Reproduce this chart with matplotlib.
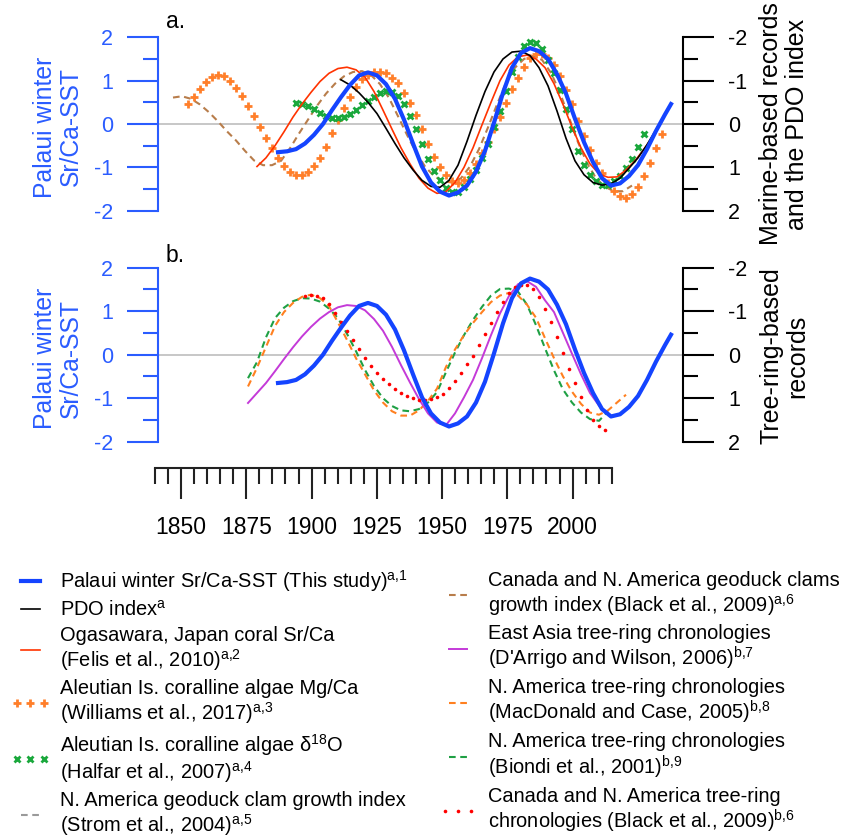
import numpy as np
import matplotlib
matplotlib.use("Agg")
import matplotlib.pyplot as plt
from matplotlib.lines import Line2D
from matplotlib.legend_handler import HandlerLine2D

plt.rcParams['font.family'] = ['Liberation Sans', 'DejaVu Sans']
plt.rcParams['mathtext.fontset'] = 'custom'
plt.rcParams['mathtext.rm'] = 'Liberation Sans'
plt.rcParams['mathtext.it'] = 'Liberation Sans:italic'
plt.rcParams['axes.unicode_minus'] = False

# ---- panel a: left axis (Palaui coral, this study) ----
blue_yr = [1880, 1883, 1886, 1889, 1892, 1895, 1898, 1901, 1904, 1907, 1910, 1913, 1916,
           1919, 1922, 1925, 1928, 1931, 1934, 1937, 1940, 1943, 1946, 1949, 1952, 1955,
           1958, 1961, 1964, 1967, 1970, 1973, 1976, 1979, 1982, 1985, 1988, 1991, 1994,
           1997, 2000, 2003, 2006, 2009, 2011]
blue_val = [-0.65, -0.63, -0.58, -0.45, -0.25, 0.0, 0.32, 0.62, 0.90, 1.12, 1.19, 1.12, 0.92,
            0.58, 0.10, -0.45, -0.98, -1.35, -1.56, -1.65, -1.58, -1.42, -1.10, -0.62, 0.03,
            0.72, 1.30, 1.64, 1.75, 1.68, 1.50, 1.15, 0.70, 0.12, -0.42, -0.88, -1.25, -1.42,
            -1.37, -1.20, -0.95, -0.58, -0.16, 0.22, 0.46]

# ---- panel a: right axis (inverted), marine records + PDO ----
pdo_yr = list(range(1901, 2010, 3))
pdo_val = [-1.02, -0.90, -0.72, -0.50, -0.24, 0.10, 0.45, 0.78, 1.06, 1.30,
           1.44, 1.46, 1.30, 0.95, 0.40, -0.20, -0.75, -1.20, -1.50, -1.66,
           -1.68, -1.58, -1.30, -0.88, -0.30, 0.33, 0.85, 1.17, 1.35, 1.41,
           1.38, 1.25, 1.02, 0.78, 0.48, 0.13, -0.21]

oga_yr = list(range(1873, 2009, 3))
oga_val = [0.98, 0.78, 0.50, 0.18, -0.16, -0.46, -0.73, -0.98, -1.17, -1.28,
           -1.31, -1.25, -1.08, -0.75, -0.32, 0.12, 0.55, 0.92, 1.25, 1.48,
           1.60, 1.56, 1.35, 1.00, 0.55, 0.02, -0.50, -1.00, -1.36, -1.55,
           -1.59, -1.50, -1.30, -0.93, -0.45, 0.07, 0.55, 0.92, 1.15, 1.23,
           1.22, 1.06, 0.85, 0.58, 0.28, -0.06]

geo_yr = list(range(1845, 1999, 3))
geo_val = [-0.61, -0.64, -0.58, -0.45, -0.27, -0.06, 0.17, 0.38, 0.62, 0.84,
           0.95, 0.95, 0.85, 0.56, 0.22, -0.10, -0.42, -0.70, -0.93, -1.10,
           -1.20, -1.22, -1.13, -0.92, -0.60, -0.18, 0.25, 0.65, 0.98, 1.20,
           1.32, 1.35, 1.25, 0.98, 0.58, 0.08, -0.45, -0.95, -1.30, -1.50,
           -1.57, -1.48, -1.18, -0.72, -0.15, 0.42, 0.90, 1.25, 1.45, 1.55,
           1.55, 1.42]

mgca_yr = list(range(1850, 2009, 2))
mgca_val = [-0.45, -0.62, -0.80, -0.96, -1.08, -1.13, -1.10, -1.00, -0.84, -0.65,
            -0.42, -0.18, 0.06, 0.32, 0.56, 0.78, 0.97, 1.10, 1.17, 1.17,
            1.10, 0.98, 0.78, 0.52, 0.20, -0.10, -0.38, -0.63, -0.85, -1.03,
            -1.13, -1.19, -1.21, -1.17, -1.07, -0.94, -0.72, -0.48, -0.20, 0.12,
            0.45, 0.75, 1.00, 1.18, 1.32, 1.37, 1.30, 1.14, 0.92, 0.68,
            0.42, 0.12, -0.17, -0.48, -0.80, -1.07, -1.32, -1.52, -1.62, -1.62,
            -1.52, -1.36, -1.10, -0.78, -0.45, -0.08, 0.28, 0.60, 0.90, 1.14,
            1.36, 1.55, 1.67, 1.70, 1.62, 1.45, 1.20, 0.91, 0.55, 0.22]

d18o_yr = list(range(1886, 2003, 2))
d18o_val = [-0.49, -0.46, -0.41, -0.34, -0.26, -0.18, -0.14, -0.13, -0.17, -0.24,
            -0.33, -0.43, -0.53, -0.63, -0.71, -0.75, -0.73, -0.64, -0.45, -0.18,
            0.12, 0.45, 0.80, 1.08, 1.30, 1.48, 1.58, 1.58, 1.45, 1.28,
            1.05, 0.78, 0.45, 0.08, -0.30, -0.75, -1.20, -1.55, -1.80, -1.90,
            -1.86, -1.72, -1.48, -1.18, -0.78, -0.35, 0.12, 0.62, 0.95, 1.17,
            1.32, 1.40, 1.40, 1.32, 1.20, 1.02, 0.80, 0.52, 0.22]

# ---- panel b: right axis (inverted), tree-ring records ----
asia_yr = list(range(1870, 1988, 3))
asia_val = [1.11, 0.88, 0.65, 0.38, 0.10, -0.17, -0.42, -0.64, -0.83, -0.98,
            -1.09, -1.14, -1.12, -1.02, -0.82, -0.55, -0.18, 0.24, 0.64, 1.02,
            1.35, 1.56, 1.62, 1.35, 0.98, 0.58, 0.08, -0.45, -0.95, -1.35,
            -1.62, -1.69, -1.56, -1.25, -0.98, -0.50, -0.02, 0.45, 0.88, 1.17]

biondi_yr = list(range(1870, 1991, 3))
biondi_val = [0.54, 0.17, -0.40, -0.84, -1.08, -1.23, -1.30, -1.29, -1.22, -1.06,
              -0.84, -0.48, -0.08, 0.35, 0.72, 1.00, 1.18, 1.28, 1.30, 1.25,
              1.10, 0.86, 0.40, -0.05, -0.45, -0.80, -1.10, -1.36, -1.51, -1.52,
              -1.45, -1.15, -0.68, -0.15, 0.36, 0.80, 1.10, 1.33, 1.48, 1.52,
              1.30]

macd_yr = list(range(1870, 1997, 3))
macd_val = [0.73, 0.30, -0.18, -0.66, -0.98, -1.19, -1.33, -1.38, -1.30, -1.12,
            -0.74, -0.34, 0.08, 0.45, 0.82, 1.10, 1.30, 1.40, 1.40, 1.28,
            1.06, 0.78, 0.28, -0.12, -0.45, -0.73, -0.98, -1.21, -1.36, -1.42,
            -1.36, -1.15, -0.85, -0.38, 0.08, 0.50, 0.85, 1.13, 1.33, 1.38,
            1.28, 1.10, 0.92]

black_yr = list(range(1889, 1990, 2))
black_val = [-1.36, -1.38, -1.36, -1.30, -1.16, -0.97, -0.76, -0.55, -0.33, -0.12,
             0.08, 0.26, 0.43, 0.57, 0.68, 0.78, 0.88, 0.95, 1.00, 1.03,
             1.04, 1.02, 0.98, 0.90, 0.77, 0.60, 0.42, 0.22, 0.02, -0.22,
             -0.47, -0.72, -0.98, -1.22, -1.42, -1.55, -1.60, -1.60, -1.50, -1.32,
             -1.06, -0.75, -0.40, -0.04, 0.32, 0.65, 0.97, 1.27, 1.50, 1.65,
             1.74]

yticks = [-2, -1, 0, 1, 2]
yminor = [-1.5, -0.5, 0.5, 1.5]
xmajor = [1850, 1875, 1900, 1925, 1950, 1975, 2000]

BLUE = '#1444ff'
BLUE_AX = '#2a5cff'
DASH = (0, (3.2, 2.2))
W, H = 852.0, 838.0


def px(x, y, w, h):
    return [x / W, 1 - (y + h) / H, w / W, h / H]


def setup_panel(axl, axr):
    for ax in (axl, axr):
        ax.set_xlim(1840, 2015)
        ax.spines['top'].set_visible(False)
        ax.spines['bottom'].set_visible(False)
        ax.tick_params(axis='x', which='both', bottom=False, labelbottom=False)
    axl.set_ylim(-2, 2)
    axr.set_ylim(2, -2)
    axl.spines['right'].set_visible(False)
    axr.spines['left'].set_visible(False)
    axl.spines['left'].set_color(BLUE_AX)
    axl.spines['left'].set_linewidth(1.5)
    axr.spines['right'].set_linewidth(1.5)
    for ax, col in ((axl, BLUE_AX), (axr, 'black')):
        ax.set_yticks(yticks)
        ax.set_yticks(yminor, minor=True)
        ax.set_yticklabels([str(t) for t in yticks])
        ax.tick_params(axis='y', which='major', direction='out', length=22, width=1.5,
                       color=col, labelcolor=col, labelsize=15.5, pad=10.5)
        ax.tick_params(axis='y', which='minor', direction='out', length=11, width=1.5,
                       color=col)
    axr.axhline(0, color='#bdbdbd', lw=1.2, zorder=0)
    axl.set_zorder(3)
    axl.patch.set_visible(False)


fig = plt.figure(figsize=(8.52, 8.38), dpi=100)

# panel a
axa = fig.add_axes(px(158, 37.3, 525, 173.4))
axa_r = axa.twinx()
setup_panel(axa, axa_r)
h_geo, = axa_r.plot(geo_yr, geo_val, color='#b87d4b', lw=1.5, ls=DASH)
h_mg, = axa_r.plot(mgca_yr, mgca_val, ls='none', marker='+', ms=5.5, mew=2.0, color='#ff7f2a')
h_d18, = axa_r.plot(d18o_yr, d18o_val, ls='none', marker='x', ms=4, mew=2.0, color='#1aa83c')
h_oga, = axa_r.plot(oga_yr, oga_val, color='#ff3300', lw=1.2)
h_pdo, = axa_r.plot(pdo_yr, pdo_val, color='black', lw=1.2)
h_blue, = axa.plot(blue_yr, blue_val, color=BLUE, lw=3)

# panel b
axb = fig.add_axes(px(158, 267.7, 525, 174))
axb_r = axb.twinx()
setup_panel(axb, axb_r)
h_bio, = axb_r.plot(biondi_yr, biondi_val, color='#1fa044', lw=1.5, ls=DASH)
h_mac, = axb_r.plot(macd_yr, macd_val, color='#ff8020', lw=1.5, ls=DASH)
h_asia, = axb_r.plot(asia_yr, asia_val, color='#c43ad8', lw=1.4)
h_blk, = axb_r.plot(black_yr, black_val, ls='none', marker='o', ms=2.6, mew=0, color='#ff0000')
axb.plot(blue_yr, blue_val, color=BLUE, lw=3)

# axis titles and panel letters
fig.text(58 / W, 1 - 127 / H, 'Palaui winter\nSr/Ca-SST', rotation=90, ha='center',
         va='center', color=BLUE_AX, fontsize=17.8, linespacing=1.1)
fig.text(58 / W, 1 - 358 / H, 'Palaui winter\nSr/Ca-SST', rotation=90, ha='center',
         va='center', color=BLUE_AX, fontsize=17.8, linespacing=1.1)
fig.text(784 / W, 1 - 124 / H, 'Marine-based records\nand the PDO index', rotation=90,
         ha='center', va='center', fontsize=18, linespacing=1.1)
fig.text(784 / W, 1 - 356 / H, 'Tree-ring-based\nrecords', rotation=90,
         ha='center', va='center', fontsize=18, linespacing=1.1)
fig.text(166 / W, 1 - 28 / H, 'a.', fontsize=16.5, va='baseline')
fig.text(166 / W, 1 - 262 / H, 'b.', fontsize=16.5, va='baseline')

# detached time axis
axx = fig.add_axes(px(155, 466.7, 456.7, 1))
for s in ('top', 'left', 'right'):
    axx.spines[s].set_visible(False)
axx.spines['bottom'].set_linewidth(1.5)
axx.spines['bottom'].set_color('#222222')
axx.patch.set_visible(False)
axx.set_yticks([])
axx.set_xlim(1840, 2015)
axx.set_xticks(xmajor)
axx.set_xticks(list(range(1840, 2016, 5)), minor=True)
axx.tick_params(axis='x', which='major', direction='out', length=22, width=1.5,
                color='#222222', labelsize=16.5, pad=13)
axx.tick_params(axis='x', which='minor', direction='out', length=11.3, width=1.5,
                color='#222222')

# legends
h_strom = Line2D([], [], color='#9a9a9a', lw=1.5, ls=DASH)
left_h = [h_blue, h_pdo, h_oga, h_mg, h_d18, h_strom]
left_l = ['Palaui winter Sr/Ca-SST (This study)$^{\\rm a{,}1}$',
          'PDO index$^{\\rm a}$',
          'Ogasawara, Japan coral Sr/Ca\n(Felis et al., 2010)$^{\\rm a{,}2}$',
          'Aleutian Is. coralline algae Mg/Ca\n(Williams et al., 2017)$^{\\rm a{,}3}$',
          'Aleutian Is. coralline algae \u03b4$^{\\rm 18}$O\n(Halfar et al., 2007)$^{\\rm a{,}4}$',
          'N. America geoduck clam growth index\n(Strom et al., 2004)$^{\\rm a{,}5}$']
right_h = [h_geo, h_asia, h_mac, h_bio, h_blk]
right_l = ['Canada and N. America geoduck clams\ngrowth index (Black et al., 2009)$^{\\rm a{,}6}$',
           'East Asia tree-ring chronologies\n(D\'Arrigo and Wilson, 2006)$^{\\rm b{,}7}$',
           'N. America tree-ring chronologies\n(MacDonald and Case, 2005)$^{\\rm b{,}8}$',
           'N. America tree-ring chronologies\n(Biondi et al., 2001)$^{\\rm b{,}9}$',
           'Canada and N. America tree-ring\nchronologies (Black et al., 2009)$^{\\rm b{,}6}$']

wide = HandlerLine2D(marker_pad=0.12)
hmap = {h_mg: wide, h_d18: wide, h_blk: wide}
leg1 = fig.legend(left_h, left_l, loc='upper left', bbox_to_anchor=(15 / W, 1 - 568 / H),
                  frameon=False, borderpad=0, borderaxespad=0, handlelength=1.55,
                  handletextpad=0.7, labelspacing=0.3, fontsize=14.4, numpoints=3,
                  handler_map=hmap)
leg2 = fig.legend(right_h, right_l, loc='upper left', bbox_to_anchor=(443 / W, 1 - 571 / H),
                  frameon=False, borderpad=0, borderaxespad=0, handlelength=1.5,
                  handletextpad=0.77, labelspacing=0.3, fontsize=14.4, numpoints=3,
                  handler_map=hmap)
for leg in (leg1, leg2):
    for t in leg.get_texts():
        t.set_linespacing(1.1)

fig.savefig('out.png', dpi=100)
